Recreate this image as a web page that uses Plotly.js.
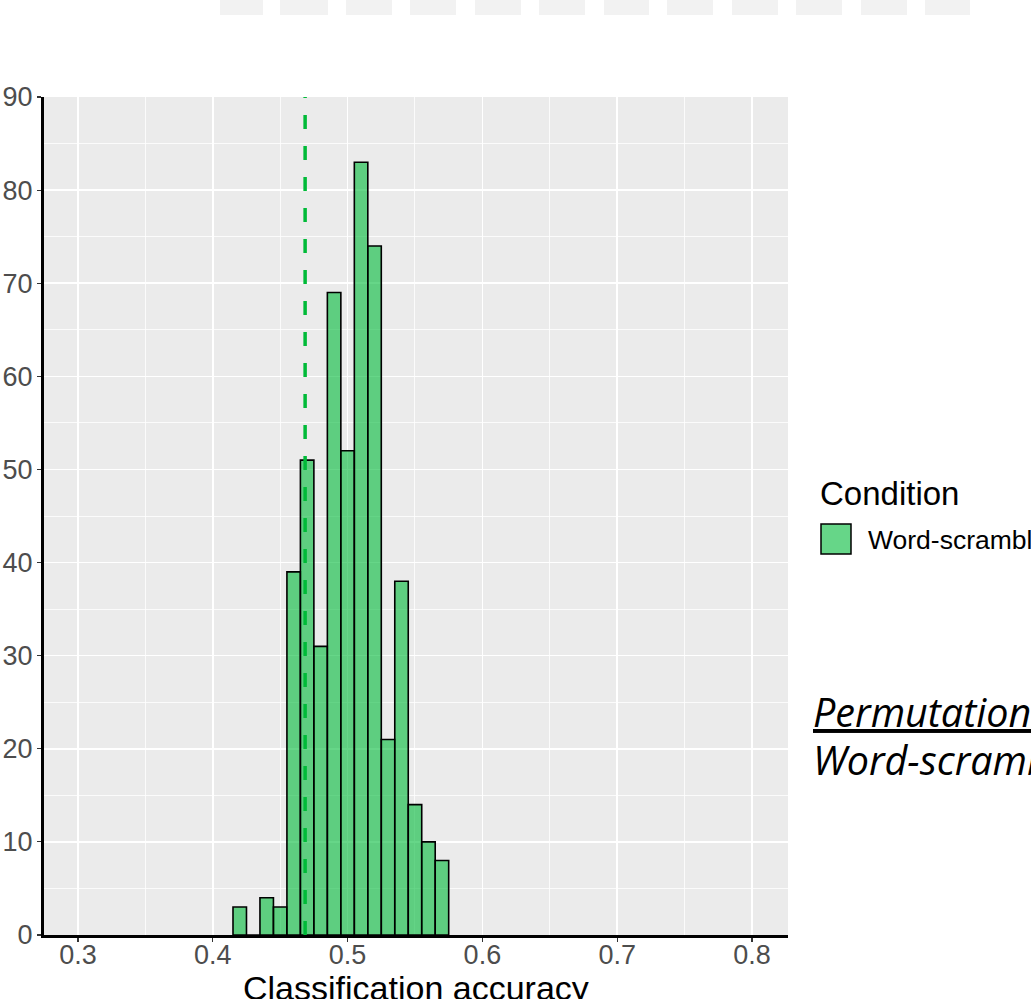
<!DOCTYPE html>
<html>
<head>
<meta charset="utf-8">
<script src="https://cdn.plot.ly/plotly-3.0.1.min.js"></script>
<style>html,body{margin:0;padding:0;background:#fff;}#chart{width:1031px;height:999px;}</style>
</head>
<body>
<div id="chart"></div>
<script>
// ---- data ----
const binCenters = [0.42, 0.43, 0.44, 0.45, 0.46, 0.47, 0.48, 0.49, 0.50, 0.51, 0.52, 0.53, 0.54, 0.55, 0.56, 0.57];
const binCounts  = [3, 0, 4, 3, 39, 51, 31, 69, 52, 83, 74, 21, 38, 14, 10, 8];
const binWidth = 0.01;
const observedAccuracy = 0.4685;
const xTickVals = [0.3, 0.4, 0.5, 0.6, 0.7, 0.8];
const xTickText = ['0.3', '0.4', '0.5', '0.6', '0.7', '0.8'];
const yTickVals = [0, 10, 20, 30, 40, 50, 60, 70, 80, 90];
const seriesName = 'Word-scrambled';
const legendTitle = 'Condition';
const xTitle = 'Classification accuracy';
const noteLine1 = 'Permutation test';
const noteLine2 = 'Word-scrambled';

// ---- layout geometry (pixels) ----
const W = 1031, H = 999;
const L = 44, R = 788, T = 97, B = 935;
const pw = R - L, ph = B - T;
const px = x => (x - L) / pw;
const py = y => (B - y) / ph;

// faint header blocks at top of the image (decoration)
const headerStarts = [220, 280, 346, 410, 475, 539, 604, 667, 732, 796, 861, 925];
const headerEnds   = [263, 328, 392, 456, 521, 585, 649, 713, 778, 842, 907, 970];
const shapes = headerStarts.map((s, i) => ({
  type: 'rect', xref: 'paper', yref: 'paper', layer: 'above',
  x0: px(s), x1: px(headerEnds[i]), y0: py(15), y1: py(0),
  fillcolor: '#F2F2F2', line: {width: 0}
}));
// legend key
shapes.push({
  type: 'rect', xref: 'paper', yref: 'paper',
  x0: px(821), x1: px(851), y0: py(554), y1: py(524),
  fillcolor: 'rgba(0,186,56,0.6)', line: {color: '#000', width: 1.5}
});

const traces = [
  {
    type: 'bar', x: binCenters, y: binCounts, width: binWidth, name: seriesName,
    marker: {color: 'rgba(0,186,56,0.6)', line: {color: '#000000', width: 1.6}},
    showlegend: false, hoverinfo: 'x+y'
  },
  {
    type: 'scatter', mode: 'lines', x: [observedAccuracy, observedAccuracy], y: [0, 90],
    line: {color: '#00BA38', width: 3.5, dash: '14px,17px'}, showlegend: false
  }
];

const tickFont = {family: 'Liberation Sans, Arial, sans-serif', size: 27, color: '#4D4D4D'};

const layout = {
  width: W, height: H,
  margin: {l: L, r: W - R, t: T, b: H - B, pad: 0},
  paper_bgcolor: '#FFFFFF', plot_bgcolor: '#EBEBEB',
  showlegend: false, bargap: 0,
  font: {family: 'Liberation Sans, Arial, sans-serif', color: '#000'},
  xaxis: {
    range: [0.2748, 0.8267], tickvals: xTickVals, ticktext: xTickText,
    showgrid: true, gridcolor: '#FFFFFF', gridwidth: 1.6,
    minor: {dtick: 0.05, tick0: 0.25, showgrid: true, gridcolor: '#FFFFFF', gridwidth: 0.8},
    zeroline: false, showline: true, linecolor: '#000000', linewidth: 3,
    ticks: 'outside', ticklen: 4, tickcolor: '#333333', tickwidth: 1.2,
    tickfont: tickFont, ticklabelstandoff: -10,
    fixedrange: true
  },
  yaxis: {
    range: [0, 90], tickvals: yTickVals,
    showgrid: true, gridcolor: '#FFFFFF', gridwidth: 1.6,
    minor: {dtick: 5, tick0: 0, showgrid: true, gridcolor: '#FFFFFF', gridwidth: 0.8},
    zeroline: false, showline: true, linecolor: '#000000', linewidth: 3,
    ticks: 'outside', ticklen: 4, tickcolor: '#333333', tickwidth: 1.2,
    tickfont: tickFont, ticklabelstandoff: -1,
    fixedrange: true
  },
  shapes: shapes,
  annotations: [
    {xref: 'paper', yref: 'paper', x: px(416), y: py(988), xanchor: 'center', yanchor: 'middle',
     text: xTitle, showarrow: false,
     font: {family: 'Liberation Sans, Arial, sans-serif', size: 34, color: '#000'}},
    {xref: 'paper', yref: 'paper', x: px(818), y: py(493), xanchor: 'left', yanchor: 'middle',
     text: legendTitle, showarrow: false,
     font: {family: 'Liberation Sans, Arial, sans-serif', size: 33, color: '#000'}},
    {xref: 'paper', yref: 'paper', x: px(866), y: py(540), xanchor: 'left', yanchor: 'middle',
     text: seriesName, showarrow: false,
     font: {family: 'Liberation Sans, Arial, sans-serif', size: 26.5, color: '#000'}},
    {xref: 'paper', yref: 'paper', x: px(811), y: py(712), xanchor: 'left', yanchor: 'middle',
     text: '<i><u>' + noteLine1 + '</u></i>', showarrow: false,
     font: {family: 'Open Sans, sans-serif', size: 39.5, color: '#000'}},
    {xref: 'paper', yref: 'paper', x: px(811), y: py(760), xanchor: 'left', yanchor: 'middle',
     text: '<i>' + noteLine2 + '</i>', showarrow: false,
     font: {family: 'Open Sans, sans-serif', size: 39.5, color: '#000'}}
  ]
};

Plotly.newPlot('chart', traces, layout, {staticPlot: true, displayModeBar: false});
</script>
</body>
</html>
